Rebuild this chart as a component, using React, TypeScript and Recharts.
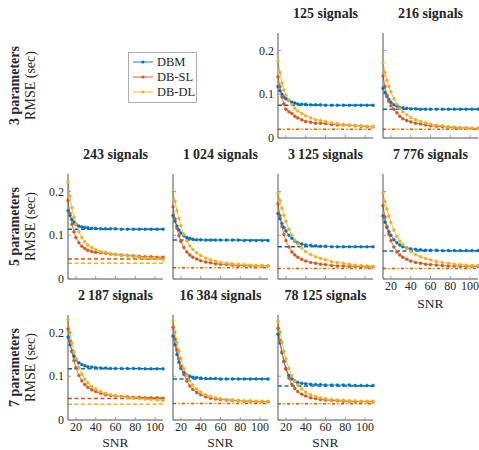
import { LineChart, Line, XAxis, YAxis, ReferenceLine } from "recharts";

// SNR sampling shared by every panel
const SNR = [12, 14, 16, 18, 20, 23, 26, 29, 32, 36, 40, 45, 50, 55, 60, 66, 72, 78, 84, 90, 96, 102, 108];
const X_TICKS = [20, 40, 60, 80, 100];
const Y_TICKS = [0, 0.1, 0.2];
const SERIES_NAMES = ["DBM", "DB-SL", "DB-DL"];

// 3 parameters
const dbm125 = [0.118, 0.108, 0.1, 0.094, 0.09, 0.086, 0.082, 0.08, 0.078, 0.077, 0.077, 0.076, 0.076, 0.076, 0.075, 0.075, 0.075, 0.075, 0.075, 0.075, 0.075, 0.075, 0.075];
const dbsl125 = [0.14, 0.118, 0.094, 0.078, 0.066, 0.06, 0.056, 0.05, 0.046, 0.042, 0.038, 0.036, 0.034, 0.034, 0.033, 0.031, 0.03, 0.03, 0.029, 0.028, 0.027, 0.026, 0.026];
const dbdl125 = [0.176, 0.15, 0.126, 0.11, 0.098, 0.086, 0.076, 0.068, 0.062, 0.056, 0.051, 0.046, 0.042, 0.04, 0.038, 0.035, 0.033, 0.031, 0.03, 0.029, 0.028, 0.027, 0.026];
const bound125 = [0.075, 0.02, 0.02];

const dbm216 = [0.114, 0.104, 0.095, 0.088, 0.082, 0.076, 0.073, 0.07, 0.069, 0.068, 0.067, 0.067, 0.066, 0.066, 0.066, 0.066, 0.066, 0.066, 0.066, 0.066, 0.066, 0.066, 0.066];
const dbsl216 = [0.142, 0.118, 0.098, 0.084, 0.074, 0.066, 0.058, 0.05, 0.044, 0.04, 0.037, 0.034, 0.032, 0.03, 0.028, 0.027, 0.026, 0.025, 0.024, 0.023, 0.023, 0.022, 0.022];
const dbdl216 = [0.172, 0.15, 0.132, 0.118, 0.106, 0.09, 0.077, 0.068, 0.06, 0.053, 0.047, 0.042, 0.038, 0.035, 0.032, 0.03, 0.028, 0.026, 0.025, 0.024, 0.023, 0.022, 0.022];
const bound216 = [0.066, 0.02, 0.02];

// 5 parameters
const dbm243 = [0.156, 0.145, 0.136, 0.13, 0.125, 0.121, 0.119, 0.118, 0.117, 0.116, 0.116, 0.115, 0.115, 0.115, 0.115, 0.114, 0.114, 0.114, 0.114, 0.114, 0.114, 0.114, 0.114];
const dbsl243 = [0.18, 0.15, 0.125, 0.108, 0.095, 0.083, 0.075, 0.07, 0.066, 0.063, 0.061, 0.06, 0.059, 0.057, 0.056, 0.055, 0.054, 0.053, 0.052, 0.051, 0.051, 0.05, 0.05];
const dbdl243 = [0.222, 0.19, 0.163, 0.142, 0.126, 0.108, 0.095, 0.085, 0.078, 0.072, 0.067, 0.063, 0.061, 0.058, 0.056, 0.054, 0.053, 0.051, 0.05, 0.048, 0.047, 0.046, 0.045];
const bound243 = [0.114, 0.046, 0.036];

const dbm1024 = [0.145, 0.132, 0.121, 0.112, 0.105, 0.099, 0.095, 0.093, 0.091, 0.09, 0.09, 0.089, 0.089, 0.089, 0.089, 0.089, 0.089, 0.089, 0.088, 0.088, 0.088, 0.088, 0.088];
const dbsl1024 = [0.165, 0.138, 0.116, 0.099, 0.086, 0.072, 0.062, 0.055, 0.05, 0.046, 0.042, 0.039, 0.037, 0.035, 0.034, 0.033, 0.032, 0.031, 0.031, 0.03, 0.03, 0.03, 0.03];
const dbdl1024 = [0.2, 0.178, 0.156, 0.138, 0.122, 0.102, 0.087, 0.076, 0.068, 0.06, 0.054, 0.048, 0.044, 0.041, 0.038, 0.036, 0.035, 0.034, 0.033, 0.032, 0.031, 0.031, 0.03];
const bound1024 = [0.089, 0.026, 0.026];

const dbm3125 = [0.15, 0.138, 0.127, 0.118, 0.11, 0.1, 0.093, 0.087, 0.083, 0.08, 0.078, 0.077, 0.076, 0.075, 0.075, 0.074, 0.074, 0.074, 0.074, 0.074, 0.074, 0.074, 0.074];
const dbsl3125 = [0.172, 0.145, 0.12, 0.102, 0.088, 0.073, 0.062, 0.055, 0.05, 0.045, 0.041, 0.038, 0.036, 0.034, 0.033, 0.031, 0.03, 0.03, 0.029, 0.029, 0.028, 0.028, 0.028];
const dbdl3125 = [0.196, 0.18, 0.162, 0.146, 0.132, 0.114, 0.1, 0.089, 0.08, 0.071, 0.063, 0.056, 0.051, 0.047, 0.044, 0.04, 0.038, 0.036, 0.034, 0.032, 0.031, 0.03, 0.029];
const bound3125 = [0.074, 0.024, 0.024];

const dbm7776 = [0.144, 0.13, 0.118, 0.108, 0.1, 0.09, 0.083, 0.078, 0.074, 0.071, 0.069, 0.068, 0.067, 0.066, 0.066, 0.066, 0.065, 0.065, 0.065, 0.065, 0.065, 0.065, 0.065];
const dbsl7776 = [0.168, 0.142, 0.12, 0.102, 0.088, 0.073, 0.062, 0.055, 0.05, 0.045, 0.041, 0.038, 0.036, 0.034, 0.033, 0.032, 0.031, 0.03, 0.03, 0.029, 0.029, 0.029, 0.029];
const dbdl7776 = [0.197, 0.177, 0.16, 0.144, 0.13, 0.112, 0.098, 0.087, 0.079, 0.07, 0.063, 0.056, 0.051, 0.047, 0.044, 0.04, 0.038, 0.036, 0.034, 0.033, 0.032, 0.031, 0.031];
const bound7776 = [0.064, 0.024, 0.024];

// 7 parameters
const dbm2187 = [0.19, 0.172, 0.158, 0.146, 0.138, 0.131, 0.127, 0.124, 0.122, 0.121, 0.12, 0.119, 0.119, 0.118, 0.118, 0.118, 0.118, 0.118, 0.118, 0.117, 0.117, 0.117, 0.117];
const dbsl2187 = [0.208, 0.18, 0.156, 0.136, 0.12, 0.102, 0.09, 0.081, 0.075, 0.069, 0.065, 0.061, 0.058, 0.056, 0.055, 0.054, 0.053, 0.052, 0.052, 0.051, 0.051, 0.051, 0.05];
const dbdl2187 = [0.23, 0.2, 0.176, 0.156, 0.14, 0.12, 0.105, 0.094, 0.085, 0.077, 0.071, 0.065, 0.061, 0.058, 0.056, 0.053, 0.051, 0.05, 0.049, 0.048, 0.047, 0.046, 0.045];
const bound2187 = [0.117, 0.049, 0.036];

const dbm16384 = [0.192, 0.172, 0.15, 0.132, 0.118, 0.108, 0.103, 0.1, 0.098, 0.097, 0.096, 0.095, 0.095, 0.095, 0.094, 0.094, 0.094, 0.094, 0.094, 0.094, 0.094, 0.094, 0.094];
const dbsl16384 = [0.212, 0.185, 0.16, 0.14, 0.123, 0.104, 0.089, 0.078, 0.07, 0.063, 0.058, 0.053, 0.05, 0.048, 0.047, 0.046, 0.045, 0.044, 0.043, 0.043, 0.042, 0.042, 0.042];
const dbdl16384 = [0.228, 0.202, 0.178, 0.157, 0.14, 0.118, 0.102, 0.09, 0.08, 0.071, 0.064, 0.058, 0.054, 0.051, 0.049, 0.047, 0.046, 0.045, 0.044, 0.044, 0.043, 0.043, 0.043];
const bound16384 = [0.094, 0.038, 0.038];

const dbm78125 = [0.196, 0.176, 0.154, 0.134, 0.118, 0.102, 0.094, 0.089, 0.086, 0.084, 0.083, 0.082, 0.081, 0.081, 0.08, 0.08, 0.08, 0.08, 0.08, 0.079, 0.079, 0.079, 0.079];
const dbsl78125 = [0.21, 0.182, 0.156, 0.134, 0.116, 0.096, 0.082, 0.072, 0.065, 0.059, 0.055, 0.051, 0.049, 0.047, 0.046, 0.045, 0.044, 0.043, 0.043, 0.042, 0.042, 0.042, 0.042];
const dbdl78125 = [0.225, 0.202, 0.178, 0.157, 0.14, 0.118, 0.101, 0.089, 0.08, 0.071, 0.064, 0.058, 0.054, 0.051, 0.049, 0.047, 0.046, 0.045, 0.044, 0.044, 0.043, 0.043, 0.043];
const bound78125 = [0.078, 0.037, 0.037];

const ROW_LABELS = ["3 parameters", "5 parameters", "7 parameters"];

const COLORS = ["#0072BD", "#D95319", "#EDB120"];
const KEYS = ["dbm", "dbsl", "dbdl"];
const FONT = "Liberation Serif, Tinos, Times New Roman, serif";
const INK = "#262626";

const PLOT_W = 95;
const PLOT_H = 105;
const colLeft = (c: number) => 68 + 105 * c;
const rowTop = (r: number) => 33 + 141 * r;

const panels = [
  { title: "125 signals", row: 0, col: 2, s: [dbm125, dbsl125, dbdl125], bound: bound125, yLab: true, xLab: false },
  { title: "216 signals", row: 0, col: 3, s: [dbm216, dbsl216, dbdl216], bound: bound216, yLab: false, xLab: false },
  { title: "243 signals", row: 1, col: 0, s: [dbm243, dbsl243, dbdl243], bound: bound243, yLab: true, xLab: false },
  { title: "1\u2009024 signals", row: 1, col: 1, s: [dbm1024, dbsl1024, dbdl1024], bound: bound1024, yLab: false, xLab: false },
  { title: "3\u2009125 signals", row: 1, col: 2, s: [dbm3125, dbsl3125, dbdl3125], bound: bound3125, yLab: false, xLab: false },
  { title: "7\u2009776 signals", row: 1, col: 3, s: [dbm7776, dbsl7776, dbdl7776], bound: bound7776, yLab: false, xLab: true },
  { title: "2\u2009187 signals", row: 2, col: 0, s: [dbm2187, dbsl2187, dbdl2187], bound: bound2187, yLab: true, xLab: true },
  { title: "16\u2009384 signals", row: 2, col: 1, s: [dbm16384, dbsl16384, dbdl16384], bound: bound16384, yLab: false, xLab: true },
  { title: "78\u2009125 signals", row: 2, col: 2, s: [dbm78125, dbsl78125, dbdl78125], bound: bound78125, yLab: false, xLab: true },
];

const M = 4; // tickMargin

function XTick(props: any) {
  const { x, y, payload, show } = props;
  const axisY = y - M;
  return (
    <g>
      <line x1={x} x2={x} y1={axisY} y2={axisY - 3} stroke="#8a8a8a" strokeWidth={0.8} />
      {show && (
        <text x={x} y={axisY + 11} textAnchor="middle" fontSize={12} style={{ fontFamily: FONT }} fill={INK}>
          {payload.value}
        </text>
      )}
    </g>
  );
}

function YTick(props: any) {
  const { x, y, payload, show } = props;
  const axisX = x + M;
  return (
    <g>
      <line x1={axisX} x2={axisX + 3} y1={y} y2={y} stroke="#8a8a8a" strokeWidth={0.8} />
      {show && (
        <text x={axisX - 4} y={y + 4} textAnchor="end" fontSize={12} style={{ fontFamily: FONT }} fill={INK}>
          {payload.value === 0 ? "0" : payload.value.toFixed(1)}
        </text>
      )}
    </g>
  );
}

// dashed bound lines; when DB-SL and DB-DL bounds coincide their dashes alternate
function dashFor(k: number, bound: number[]) {
  if (k === 0) return "4 2.5";
  if (bound[1] !== bound[2]) return "4 2.5";
  return k === 1 ? "3 6" : "0 4.5 3 1.5";
}

function Panel({ p }: { p: (typeof panels)[number] }) {
  const left = colLeft(p.col);
  const top = rowTop(p.row);
  const rows = SNR.map((snr, i) => ({ snr, dbm: p.s[0][i], dbsl: p.s[1][i], dbdl: p.s[2][i] }));
  return (
    <div style={{ position: "absolute", left: left - 40, top: top - 5 }}>
      <LineChart width={40 + PLOT_W + 6} height={5 + PLOT_H + 30} data={rows} margin={{ top: 5, right: 6, bottom: 0, left: 0 }}>
        <XAxis
          dataKey="snr"
          type="number"
          domain={[12, 108]}
          ticks={X_TICKS}
          interval={0}
          height={30}
          tickSize={0}
          tickMargin={M}
          axisLine={{ stroke: INK, strokeWidth: 0.8 }}
          tickLine={false}
          tick={(t: any) => <XTick {...t} show={p.xLab} />}
        />
        <YAxis
          type="number"
          domain={[0, 0.24]}
          ticks={Y_TICKS}
          interval={0}
          width={40}
          tickSize={0}
          tickMargin={M}
          axisLine={{ stroke: INK, strokeWidth: 0.8 }}
          tickLine={false}
          tick={(t: any) => <YTick {...t} show={p.yLab} />}
        />
        {p.bound.map((b, k) => (
          <ReferenceLine key={"b" + k} y={b} stroke={COLORS[k]} strokeWidth={1.5} strokeDasharray={dashFor(k, p.bound)} />
        ))}
        {KEYS.map((k, i) => (
          <Line
            key={k}
            dataKey={k}
            name={SERIES_NAMES[i]}
            stroke={COLORS[i]}
            strokeWidth={0.8}
            dot={{ r: 1.5, fill: COLORS[i], stroke: COLORS[i], strokeWidth: 0.4 }}
            isAnimationActive={false}
          />
        ))}
      </LineChart>
    </div>
  );
}

function Overlay() {
  return (
    <svg width={479} height={450} style={{ position: "absolute", left: 0, top: 0, fontFamily: FONT }}>
      {panels.map((p) => (
        <text
          key={p.title}
          x={colLeft(p.col) + PLOT_W / 2}
          y={rowTop(p.row) - 15}
          textAnchor="middle"
          fontSize={14}
          fontWeight="bold"
          fill={INK}
        >
          {p.title}
        </text>
      ))}
      {panels
        .filter((p) => p.xLab)
        .map((p) => (
          <text
            key={"snr" + p.title}
            x={colLeft(p.col) + PLOT_W / 2}
            y={Math.min(rowTop(p.row) + PLOT_H + 29, 447)}
            textAnchor="middle"
            fontSize={13.5}
            fill={INK}
          >
            SNR
          </text>
        ))}
      {ROW_LABELS.map((lab, r) => {
        const cy = rowTop(r) + PLOT_H / 2;
        return (
          <g key={lab}>
            <text transform={`translate(19, ${cy}) rotate(-90)`} textAnchor="middle" fontSize={14} fontWeight="bold" fill={INK}>
              {lab}
            </text>
            <text transform={`translate(35, ${cy}) rotate(-90)`} textAnchor="middle" fontSize={14} fill={INK}>
              RMSE (sec)
            </text>
          </g>
        );
      })}
      <g>
        <rect x={128.5} y={52.5} width={68} height={50} fill="#fff" stroke="#9a9a9a" strokeWidth={0.8} />
        {SERIES_NAMES.map((n, i) => (
          <g key={n}>
            <line x1={133} x2={153} y1={62 + 15 * i} y2={62 + 15 * i} stroke={COLORS[i]} strokeWidth={0.9} />
            <circle cx={143} cy={62 + 15 * i} r={1.6} fill={COLORS[i]} />
            <text x={157} y={66 + 15 * i} fontSize={12.5} fill={INK}>
              {n}
            </text>
          </g>
        ))}
      </g>
    </svg>
  );
}

export default function App() {
  return (
    <div style={{ position: "absolute", left: 0, top: 0, width: 479, height: 450, background: "#fff", overflow: "hidden" }}>
      <Overlay />
      {panels.map((p) => (
        <Panel key={p.title} p={p} />
      ))}
    </div>
  );
}
